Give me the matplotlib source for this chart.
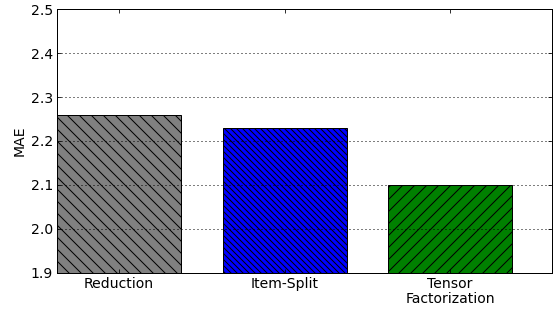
import matplotlib
matplotlib.use("Agg")
import matplotlib.pyplot as plt

methods = ["Reduction", "Item-Split", "Tensor\nFactorization"]
mae = [2.258, 2.229, 2.100]
colors = ["gray", "blue", "green"]
hatches = ["\\\\", "\\\\\\\\", "//"]
yticks = [1.9, 2.0, 2.1, 2.2, 2.3, 2.4, 2.5]

DPI = 72
fig = plt.figure(figsize=(553 / DPI, 310 / DPI), dpi=DPI)
ax = fig.add_axes([57 / 553, 37 / 310, 495 / 553, 264 / 310])

ax.set_axisbelow(False)
pos = list(range(len(methods)))
for i in pos:
    ax.bar(i, mae[i], width=0.75, bottom=0, color=colors[i], edgecolor="black",
           hatch=hatches[i], linewidth=1.0, zorder=1)

ax.set_ylim(1.9, 2.5)
ax.set_xlim(-0.375, 2.615)
ax.set_yticks(yticks)
ax.set_yticklabels(["%.1f" % v for v in yticks])
ax.set_xticks(pos)
ax.set_xticklabels(methods, linespacing=1.1)
ax.set_ylabel("MAE", fontsize=14, labelpad=4)
ax.yaxis.grid(True, linestyle=(0, (1, 3)), color="black", linewidth=1.0, zorder=5)
ax.tick_params(direction="in", top=True, right=True, labelsize=14, length=4, pad=4)
for s in ax.spines.values():
    s.set_linewidth(1.0)
    s.set_zorder(6)

plt.savefig("out.png", dpi=DPI)
plt.close()
